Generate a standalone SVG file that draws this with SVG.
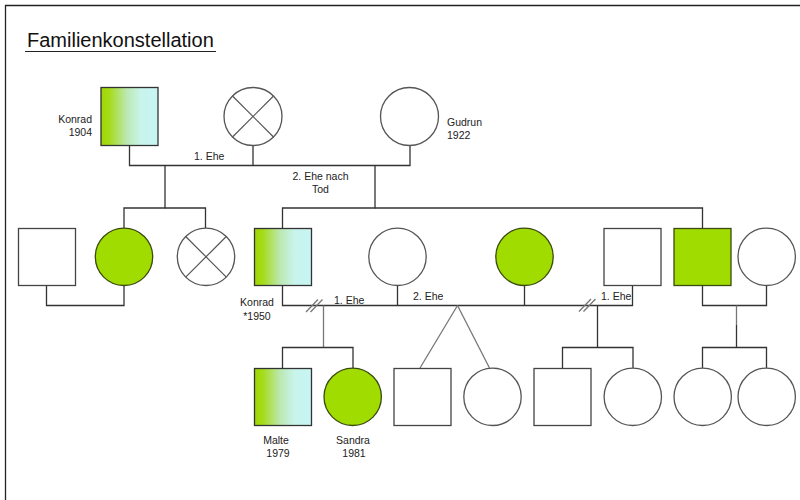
<svg xmlns="http://www.w3.org/2000/svg" width="800" height="500" viewBox="0 0 800 500">
<defs>
<linearGradient id="grad" x1="0" y1="0" x2="1" y2="0">
<stop offset="0" stop-color="#9ED800"/>
<stop offset="0.15" stop-color="#A6DB1C"/>
<stop offset="0.45" stop-color="#BCE8B2"/>
<stop offset="0.7" stop-color="#C8F4EC"/>
<stop offset="1" stop-color="#C8F4F4"/>
</linearGradient>
<style>
.sq{fill:#fff;stroke:#444;stroke-width:1.3}
.ci{fill:#fff;stroke:#555;stroke-width:1.3}
.g{fill:#A0DC00;stroke:#3a4a10;stroke-width:1.3}
.gr{fill:url(#grad);stroke:#333;stroke-width:1.3}
.x{stroke:#555;stroke-width:1.2}
.ln{fill:none;stroke:#333;stroke-width:1.3}
.lg{fill:none;stroke:#777;stroke-width:1.3}
.t{font-family:"Liberation Sans",Arial,sans-serif;font-size:10.5px;fill:#222}
.title{font-family:"Liberation Sans",Arial,sans-serif;font-size:20px;fill:#111}
</style>
</defs>
<rect width="800" height="500" fill="#fff"/>
<path d="M5.5,500 V5.5 H800" fill="none" stroke="#222" stroke-width="1.3"/>
<g id="title">
<text class="title" x="27" y="47">Familienkonstellation</text>
<line x1="25" y1="51.5" x2="216" y2="51.5" stroke="#222" stroke-width="1"/>
</g>
<g id="connectors">
<polyline class="ln" points="129.5,145.5 129.5,165.5 410,165.5 410,145.5"/>
<line class="ln" x1="253" y1="145.5" x2="253" y2="165.5"/>
<polyline class="ln" points="165,165.5 165,208 124,208 124,228"/>
<polyline class="ln" points="165,208 205.5,208 205.5,228"/>
<polyline class="ln" points="375,165.5 375,208 282.5,208 282.5,228"/>
<polyline class="ln" points="375,208 702.5,208 702.5,228"/>
<polyline class="ln" points="46.5,285.5 46.5,305.5 124,305.5 124,285.5"/>
<polyline class="ln" points="282.5,285.5 282.5,305.5 632.5,305.5 632.5,285.5"/>
<line class="ln" x1="397.5" y1="285.5" x2="397.5" y2="305.5"/>
<line class="ln" x1="524.5" y1="285.5" x2="524.5" y2="305.5"/>
<polyline class="ln" points="702.5,285.5 702.5,305.5 766.5,305.5 766.5,285.5"/>
<line class="lg" x1="306" y1="312" x2="318" y2="299.5"/>
<line class="lg" x1="310.5" y1="312" x2="322.5" y2="299.5"/>
<line class="lg" x1="579" y1="311.5" x2="591" y2="299"/>
<line class="lg" x1="583.5" y1="311.5" x2="595.5" y2="299"/>
<line class="lg" x1="323.5" y1="305.5" x2="323.5" y2="347.5"/>
<polyline class="ln" points="282.5,368 282.5,347.5 353,347.5 353,368"/>
<line class="lg" x1="457.5" y1="305.5" x2="420" y2="368"/>
<line class="lg" x1="457.5" y1="305.5" x2="489.5" y2="368"/>
<line class="ln" x1="597.5" y1="305.5" x2="597.5" y2="347.5"/>
<polyline class="ln" points="562.5,368 562.5,347.5 633,347.5 633,368"/>
<line class="lg" x1="736.5" y1="305.5" x2="736.5" y2="325"/>
<line class="ln" x1="736.5" y1="325" x2="736.5" y2="347.5"/>
<polyline class="ln" points="702.5,368 702.5,347.5 766.5,347.5 766.5,368"/>
</g>
<g id="connector-labels">
<text class="t" x="194" y="160">1. Ehe</text>
<text class="t" x="320.5" y="180" text-anchor="middle">2. Ehe nach</text>
<text class="t" x="320.5" y="193" text-anchor="middle">Tod</text>
<text class="t" x="334" y="303.5">1. Ehe</text>
<text class="t" x="413" y="300">2. Ehe</text>
<text class="t" x="601" y="300">1. Ehe</text>
</g>
<g id="konrad1904">
<rect class="gr" x="101" y="87.5" width="57" height="58"/>
<text class="t" x="92" y="123" text-anchor="end">Konrad</text>
<text class="t" x="92" y="136" text-anchor="end">1904</text>
</g>
<g id="wife1">
<circle class="ci" cx="253" cy="116.5" r="29"/>
<line class="x" x1="232.5" y1="96" x2="273.5" y2="137"/>
<line class="x" x1="273.5" y1="96" x2="232.5" y2="137"/>
</g>
<g id="gudrun">
<circle class="ci" cx="409.5" cy="116.5" r="29"/>
<text class="t" x="447" y="126">Gudrun</text>
<text class="t" x="447" y="139">1922</text>
</g>
<g id="g2-son-in-law"><rect class="sq" x="18.5" y="228.5" width="57" height="57"/></g>
<g id="g2-daughter1"><circle class="g" cx="124" cy="256.8" r="28.7"/></g>
<g id="g2-dead">
<circle class="ci" cx="206" cy="256.8" r="28.7"/>
<line class="x" x1="185.7" y1="236.5" x2="226.3" y2="277.1"/>
<line class="x" x1="226.3" y1="236.5" x2="185.7" y2="277.1"/>
</g>
<g id="konrad1950">
<rect class="gr" x="254.5" y="228.5" width="57" height="57"/>
<text class="t" x="257" y="306" text-anchor="middle">Konrad</text>
<text class="t" x="257" y="320" text-anchor="middle">*1950</text>
</g>
<g id="g2-wife1"><circle class="ci" cx="397.5" cy="256.8" r="28.7"/></g>
<g id="g2-wife2"><circle class="g" cx="524.5" cy="256.8" r="28.7"/></g>
<g id="g2-husband"><rect class="sq" x="604" y="228.5" width="57" height="57"/></g>
<g id="g2-son"><rect class="g" x="674" y="228.5" width="57" height="57"/></g>
<g id="g2-son-wife"><circle class="ci" cx="766.7" cy="256.8" r="28.7"/></g>
<g id="malte">
<rect class="gr" x="254.5" y="368.5" width="57" height="57"/>
<text class="t" x="276" y="444" text-anchor="middle">Malte</text>
<text class="t" x="278" y="457" text-anchor="middle">1979</text>
</g>
<g id="sandra">
<circle class="g" cx="352.7" cy="396.8" r="28.7"/>
<text class="t" x="353" y="444" text-anchor="middle">Sandra</text>
<text class="t" x="354" y="457" text-anchor="middle">1981</text>
</g>
<g id="twin-son"><rect class="sq" x="394" y="368.5" width="57" height="57"/></g>
<g id="twin-daughter"><circle class="ci" cx="492.5" cy="396.8" r="28.7"/></g>
<g id="g3-son"><rect class="sq" x="534" y="368.5" width="57" height="57"/></g>
<g id="g3-daughter"><circle class="ci" cx="632.8" cy="396.8" r="28.7"/></g>
<g id="g3-daughter2"><circle class="ci" cx="702.7" cy="396.8" r="28.7"/></g>
<g id="g3-daughter3"><circle class="ci" cx="766.7" cy="396.8" r="28.7"/></g>
</svg>
